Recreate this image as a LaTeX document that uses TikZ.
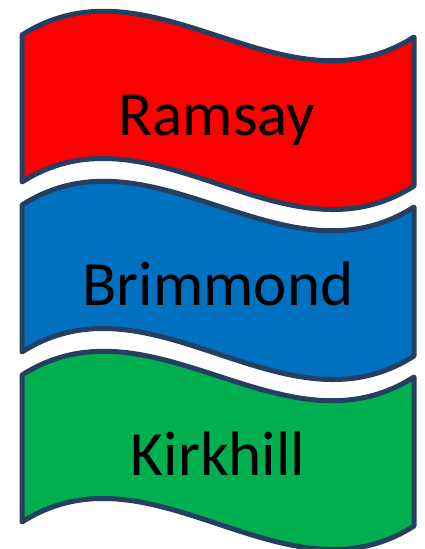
\documentclass[tikz,border=0pt]{standalone}
\usepackage{fontspec}
\setmainfont{Carlito}
\definecolor{edge}{HTML}{243F60}
\definecolor{fred}{HTML}{FF0000}
\definecolor{fblue}{HTML}{0070C0}
\definecolor{fgreen}{HTML}{00B050}
\begin{document}
\begin{tikzpicture}[x=1pt,y=-1pt,
  banner/.style={draw=edge,line width=5pt,line join=round},
  label/.style={font=\fontsize{63}{63}\selectfont,text=black,anchor=base}]
\useasboundingbox (0,0) rectangle (425,549);
\foreach \t/\c in {35/fred,205/fblue,375/fgreen}{
  \path[banner,fill=\c] (22,\t)
    .. controls (152.3,\t-83) and (283.7,\t+2+83) .. (414,\t+2)
    -- (414,\t+151)
    .. controls (283.7,\t+151+83) and (152.3,\t+147-83) .. (22,\t+147)
    -- cycle;
}
\node[label] (ramsay) at (217,135) {Ramsay};
\node[label] (brimmond) at (218,305) {Brimmond};
\node[label] (kirkhill) at (218,475) {Kirkhill};
\end{tikzpicture}
\end{document}
